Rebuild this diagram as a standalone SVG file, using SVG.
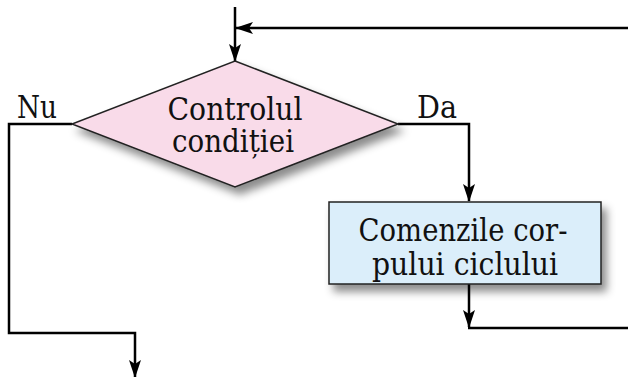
<svg xmlns="http://www.w3.org/2000/svg" width="628" height="377" viewBox="0 0 628 377">
<defs>
<style>
.conn{fill:none;stroke:#000;stroke-width:2.5;stroke-linejoin:miter}
.txt{font-family:"DejaVu Serif","Liberation Serif",serif;font-size:32px;fill:#111}
.lbl{text-anchor:middle}
.shape{stroke:#222;stroke-width:1.5}
</style>
<marker id="arr" viewBox="0 0 18 12" refX="17" refY="6" markerWidth="18" markerHeight="12" markerUnits="userSpaceOnUse" orient="auto">
<path d="M0,0 L18,6 L0,12 L4,6 z" fill="#000"/>
</marker>
<filter id="sh" x="-10%" y="-10%" width="130%" height="140%">
<feDropShadow dx="5" dy="7" stdDeviation="4" flood-color="#000" flood-opacity="0.45"/>
</filter>
</defs>
<g id="connectors">
<path class="conn" d="M235,7 L235,61" marker-end="url(#arr)"/>
<path class="conn" d="M628,28 L236,28" marker-end="url(#arr)"/>
<path class="conn" d="M72,124 L9,124 L9,333 L135,333 L135,377" marker-end="url(#arr)"/>
<path class="conn" d="M398,124 L469,124 L469,201" marker-end="url(#arr)"/>
<path class="conn" d="M469,284 L469,327" marker-end="url(#arr)"/>
<path class="conn" d="M468,328 L628,328"/>
</g>
<g id="decision">
<polygon class="shape" points="235,61 398,124 235,187 72,124" fill="#f9dbe9" filter="url(#sh)"/>
<text class="txt lbl" x="235" y="120" textLength="135" lengthAdjust="spacingAndGlyphs">Controlul</text>
<text class="txt lbl" x="233" y="152" textLength="122" lengthAdjust="spacingAndGlyphs">condiției</text>
</g>
<g id="body">
<rect class="shape" x="329" y="202" width="272" height="82" fill="#dbeefa" filter="url(#sh)"/>
<text class="txt lbl" x="463" y="241" textLength="209" lengthAdjust="spacingAndGlyphs">Comenzile cor-</text>
<text class="txt lbl" x="465" y="275" textLength="186" lengthAdjust="spacingAndGlyphs">pului ciclului</text>
</g>
<g id="labels">
<text class="txt" x="17" y="118" textLength="40" lengthAdjust="spacingAndGlyphs">Nu</text>
<text class="txt" x="417" y="118" textLength="40" lengthAdjust="spacingAndGlyphs">Da</text>
</g>
</svg>
